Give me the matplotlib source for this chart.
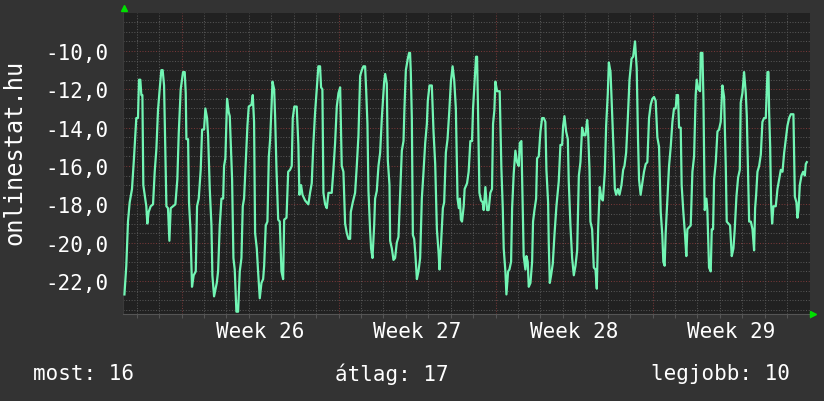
#!/usr/bin/env python3
from datetime import datetime, timedelta, date
import numpy as np
import matplotlib
matplotlib.use('Agg')
import matplotlib.pyplot as plt
from matplotlib.ticker import FuncFormatter, MultipleLocator, FixedLocator
import matplotlib.dates as mdates

# (hours since start, value), one block per stretch
seg1 = [(1,-22.7),(3,-21.2),(4.8,-18.9),(6.6,-17.9),(9.1,-17.2),(11.2,-15.6),(13.7,-13.5),(15.5,-13.5),
        (16.6,-11.5),(18,-11.5),(19.1,-12.3),(20.2,-12.3),(21.2,-17.0),(22.7,-17.5),(24.4,-18.1),(25.5,-19.0),
        (26.9,-18.4),(29.1,-18.1),(31.6,-18.0),(33.4,-16.3),(35.2,-15.1),(36.9,-13.1),(38.7,-12.0),(40.5,-11.0),
        (41.9,-11.0),(43.4,-11.8),(45.9,-18.1),(47.6,-18.2),(49.1,-19.9),(50.5,-18.2),(55.5,-18.0),(57.6,-16.7),
        (59.1,-14.3),(61.2,-12.0),(63.7,-11.1),(65.5,-11.1),(66.6,-12.2),(67.3,-14.6),(69.1,-14.6),(70.1,-17.9),
        (71.6,-19.3),(73.3,-22.3),(75.1,-21.7),(77.3,-21.5),(78.7,-18.1),(80.5,-17.7),(82.6,-16.2),(84.1,-14.1),
        (86.2,-14.1),(87.6,-13.0),(89.4,-13.5),(90.5,-14.4),(92.3,-17.2),(94.1,-19.1),(95.1,-21.7),(96.9,-22.8),
        (99.8,-22.1),(101.2,-21.5),(103,-19.1),(104.8,-17.7),(106.6,-17.7),(107.6,-16.0),(109,-15.6),(110.8,-12.5),
        (112.6,-13.2),(113.7,-13.4),(116.2,-16.7),(117.6,-20.8),(119,-21.4),(120.8,-23.6),(122.6,-23.6),(124.4,-21.5),
        (126.2,-20.8),(127.6,-18.1),(129,-17.7),(130.8,-15.8),(132.6,-13.9),(134,-12.9),(136.9,-12.8),(138.3,-12.3),
        (139.7,-13.7),(140.8,-19.5),(142.6,-20.3),(144,-21.5),(145.8,-22.9),(147.6,-22.1),(149.4,-21.9),(150.5,-21.2),
        (152.2,-19.1),(154,-18.9),(155.5,-15.5),(156.9,-14.6),(158.3,-13.0),(159.4,-11.6),(161.2,-12.0),(162.2,-13.4),
        (163.7,-16.2),(165.5,-18.8),(167.2,-18.9),(169,-21.5),(170.8,-21.9),(171.9,-18.8),(174.4,-18.7),(176.2,-16.3)]

seg2 = [(178.2,-16.2),(180,-16.0),(181.1,-13.5),(182.8,-12.9),(185.3,-12.9),(187.1,-14.9),(188.2,-17.5),(190,-17.0),
        (191.5,-17.5),(194.3,-17.8),(197.8,-18.0),(199.6,-17.4),(201.4,-16.9),(203.2,-14.8),(205,-13.2),(206.8,-12.0),
        (208.5,-10.8),(210.3,-10.8),(211.4,-11.9),(212.8,-12.0),(213.9,-17.4),(215.7,-18.0),(217.5,-18.2),(219.3,-17.4),
        (222.8,-17.4),(224.6,-16.2),(226.4,-14.8),(228.2,-12.9),(230,-12.2),(231.8,-11.9),(233.5,-16.0),(235.3,-16.3),
        (237.1,-19.0),(238.9,-19.5),(240.7,-19.8),(242.5,-19.8),(243.2,-18.4),(245.3,-17.9),(247.8,-17.4),(249.6,-16.0),
        (251.4,-14.4),(253.2,-11.3),(255,-11.0),(256.7,-10.8),(258.5,-10.8),(259.6,-12.0),(261,-13.8),(262.1,-17.3),
        (263.9,-19.4),(264.9,-20.3),(266.4,-20.8),(268.2,-19.1),(269.2,-17.7),(271,-17.3),(272.8,-16.0),(274.6,-15.3),
        (276.4,-13.5),(278.9,-11.6),(280,-11.2),(281.7,-11.7),(282.8,-15.7),(284.6,-17.0),(285.3,-19.9),(287.1,-20.3),
        (288.9,-20.9),(290.6,-20.8),(292.4,-20.0),(294.2,-19.7),(296,-17.5),(297.8,-15.2),(299.6,-14.7),(300.6,-13.0),
        (302.1,-11.0),(304.2,-10.4),(305.6,-10.1),(306.6,-10.1),(307.4,-11.1),(308.5,-13.5),(309.6,-19.6),(311,-19.8),
        (312.4,-20.7),(313.9,-21.9),(315.6,-21.5),(317.4,-20.8),(319.2,-17.7),(321,-16.3),(322.8,-14.8),(324.6,-13.8),
        (325.6,-12.6),(327.4,-11.8),(329.9,-11.8),(331.7,-14.2),(333.5,-15.9),(335.3,-19.3),(337.1,-20.5),(338.1,-21.4),
        (339.6,-20.2),(341.7,-18.2),(343.1,-17.9),(344.9,-15.3),(346.7,-14.6),(348.5,-13.2),(350.3,-11.6),(352.1,-10.8),
        (353.8,-11.5),(355.6,-13.0),(357.4,-17.7),(358.8,-18.2),(359.9,-17.7),(361,-18.8)]

seg3 = [(362.2,-18.9),(364,-18.1),(365,-17.2),(367.6,-16.9),(369.3,-16.3),(371.1,-14.7),(372.9,-14.7),(374,-13.0),
        (375.8,-11.5),(377.2,-10.3),(378.3,-10.3),(379.3,-13.0),(380.8,-17.4),(382.5,-17.8),(384.3,-17.9),(385.4,-18.3),
        (387.2,-17.1),(389,-18.3),(390.7,-18.3),(392.5,-17.4),(394.3,-17.2),(395.4,-13.8),(396.8,-13.1),(397.9,-11.6),
        (399.7,-12.1),(402.5,-12.1),(404.3,-16.1),(405.8,-18.2),(406.8,-20.3),(408.6,-21.5),(409.7,-22.7),(411.5,-21.5),
        (412.9,-21.4),(414.7,-21.0),(415.8,-18.2),(417.5,-16.4),(419.3,-15.2),(421.1,-15.8),(422.9,-16.0),(424,-14.8),
        (425.7,-14.7),(427.2,-18.3),(428.2,-20.7),(430,-21.4),(431.1,-20.7),(432.5,-21.0),(433.6,-22.3),(435.4,-22.1),
        (437.2,-21.0),(438.2,-18.9),(439.7,-18.3),(441.5,-17.7),(442.5,-15.6),(444.3,-15.5),(446.1,-14.2),(447.9,-13.5),
        (449.7,-13.5),(451.4,-13.7),(452.5,-16.2),(454.3,-17.9),(455,-20.0),(456.1,-22.1),(457.5,-21.7),(459.3,-21.1),
        (461.1,-19.6),(463.2,-18.1),(465.7,-16.8),(467.5,-14.9),(469.3,-14.9),(470.4,-13.9),(471.8,-13.4),(473.6,-14.2),
        (475.4,-14.6),(476.4,-16.8),(478.2,-19.1),(480,-20.8),(481.8,-21.7),(483.6,-21.2),(485.4,-20.4),(487.2,-16.5),
        (488.9,-15.8),(490.7,-14.0),(492.5,-14.4),(494.3,-14.4),(496.1,-13.6),(497.1,-14.2),(498.6,-16.2),(499.6,-18.9),
        (501.4,-19.3),(503.2,-21.3),(505,-21.4),(506.4,-22.4),(507.9,-19.2),(509.6,-17.1),(511.4,-17.7),(512.9,-17.8),
        (515,-16.3),(516.4,-13.9),(518.2,-12.2),(519.3,-10.6),(521.1,-11.1),(522.9,-13.4),(524.6,-15.5),(525.7,-17.2),
        (527.1,-17.5),(528.9,-17.2),(530.7,-17.5),(532.8,-17.0),(534.6,-16.2),(536,-16.0),(537.8,-15.3),(539.6,-13.5),
        (541.4,-11.5),(543.6,-10.4),(545.3,-10.3)]

seg4 = [(547.3,-9.5),(549.1,-10.9),(550.5,-14.6),(551.6,-16.7),(553.3,-17.5),(555.1,-16.9),(556.9,-16.3),(558.7,-15.9),
        (560.5,-15.8),(562.3,-13.5),(564.1,-12.8),(565.8,-12.5),(567.6,-12.4),(569.4,-12.6),(571.2,-14.5),(573,-15.0),
        (574.8,-18.4),(576.5,-19.6),(577.6,-21.0),(579,-21.2),(580.1,-19.5),(581.9,-17.8),(583.7,-16.0),(585.5,-15.0),
        (587.3,-13.7),(589,-13.0),(590.8,-13.0),(591.9,-12.3),(593.3,-12.3),(594.4,-14.0),(596.2,-14.0),(597.2,-17.0),
        (599,-18.4),(600.8,-19.6),(602.2,-20.7),(603.3,-19.3),(605.1,-19.2),(606.9,-19.1),(608.7,-16.3),(610.5,-15.5),
        (612.2,-12.3),(613.3,-11.5),(615.1,-12.0),(616.9,-12.1),(617.6,-10.1),(619.4,-10.1),(620.5,-12.5),(621.9,-18.3),
        (623.7,-17.7),(624.7,-18.3),(626.5,-21.3),(628.3,-21.5),(629.4,-19.3),(630.8,-19.3),(631.9,-16.7),(633.7,-15.8),
        (635.5,-14.2),(637.2,-14.1),(639,-13.7),(640.8,-11.8),(642.6,-12.4),(644.4,-16.0),(645.4,-18.9),(647.2,-19.0),
        (649,-19.1),(650.8,-20.7),(652.6,-20.3),(654,-19.3),(655.8,-17.6),(657.6,-16.6),(659.4,-16.2),(660.4,-12.7),
        (662.2,-12.2),(664,-11.1),(665.8,-12.2),(666.9,-13.4),(669.4,-18.9),(671.2,-18.9),(673,-19.3),(674.7,-20.4),
        (675.8,-18.2),(676.9,-17.5),(678.3,-16.3),(680.1,-16.0),(681.9,-15.4),(683.6,-13.7),(685.4,-13.5),(687.2,-13.5),
        (689,-11.1),(690.1,-11.1),(690.8,-13.2),(691.9,-15.0),(692.9,-17.9),(694,-19.0),(695.4,-18.1),(697.9,-18.1),
        (699.7,-17.2),(701.5,-16.7),(703.3,-16.2),(705.1,-16.3),(706.9,-15.3),(708.6,-14.6),(710.4,-13.9),(712.2,-13.5),
        (714,-13.3),(716.8,-13.3),(718.3,-17.6),(720,-17.9),(721.1,-18.7),(722.2,-18.3),(723.6,-17.0),(725.4,-16.5),
        (727.2,-16.3),(729,-16.5),(730,-15.9),(731.1,-15.8)]

weeks = [26, 27, 28, 29]
ylabel = 'onlinestat.hu'
most, atlag, legjobb = 16, 17, 10

start = datetime(2013, 6, 24) - timedelta(hours=62.06)
span_hours = 734.2

BG = '#333333'
PLOT_BG = '#212121'
LINE = '#72f5b4'
MINOR = '#555555'
MAJOR = '#763838'
ARROW = '#00e000'
FONT = 'DejaVu Sans Mono'

pts = seg1 + seg2 + seg3 + seg4
hours = np.array([p[0] for p in pts])
vals = np.array([p[1] for p in pts])
times = [start + timedelta(hours=float(h)) for h in hours]
end = start + timedelta(hours=span_hours)

fig = plt.figure(figsize=(8.24, 4.02), dpi=100, facecolor=BG)
ax = fig.add_axes([123.5/824, 1-315/402, 686.2/824, 301/402])
ax.set_facecolor(PLOT_BG)

ymin, ymax = -23.72, -8.02
ax.set_xlim(start, end)
ax.set_ylim(ymin, ymax)

# grid: half-unit gray, every 2 red; daily gray, mondays red
dots = (0, (1, 1.6))
for y in np.arange(-23.5, -8.0, 0.5):
    red = abs(y / 2 - round(y / 2)) < 1e-6
    ax.axhline(y, color=MAJOR if red else MINOR, lw=0.75, ls=dots, zorder=1)
days = []
d = datetime(start.year, start.month, start.day) + timedelta(days=1)
while d < end:
    days.append(d)
    ax.axvline(d, color=MAJOR if d.weekday() == 0 else MINOR, lw=0.75, ls=dots, zorder=1)
    d += timedelta(days=1)

ax.plot(times, vals, color=LINE, lw=1.6, zorder=3)

ax.yaxis.set_major_locator(MultipleLocator(2))
ax.yaxis.set_major_formatter(FuncFormatter(lambda v, p: f'{v:.1f}'.replace('.', ',')))
mids = [datetime.combine(date.fromisocalendar(2013, w, 1), datetime.min.time()) + timedelta(days=3.5)
        for w in weeks]
ax.set_xticks(mids)
ax.set_xticklabels([f'Week {w}' for w in weeks])
ax.xaxis.set_minor_locator(FixedLocator(mdates.date2num(days)))
ax.tick_params(axis='both', which='major', length=0, colors='white', labelsize=15)
ax.tick_params(axis='x', which='minor', length=3, width=0.8, color='#555555', direction='out')
ax.tick_params(axis='y', pad=11)
ax.tick_params(axis='x', which='major', pad=5)
for lab in ax.get_xticklabels() + ax.get_yticklabels():
    lab.set_family(FONT)

for s in ['top', 'right']:
    ax.spines[s].set_visible(False)
ax.spines['bottom'].set_color('#555555')
ax.spines['left'].set_color('#3a3a3a')
ax.spines['bottom'].set_linewidth(0.8)
ax.spines['left'].set_linewidth(0.8)

# rrdtool style arrow heads
fig.lines.append(plt.Line2D([124.5/824], [1-9/402], transform=fig.transFigure, marker='^',
                            color=ARROW, markersize=5, ls='none'))
fig.lines.append(plt.Line2D([813/824], [1-315/402], transform=fig.transFigure, marker='>',
                            color=ARROW, markersize=5, ls='none'))

fig.text(0.017, 0.62, ylabel, rotation=90, ha='center', va='center', color='white',
         fontsize=17, family=FONT)
fig.text(33/824, 1-374/402, f'most: {most}', ha='left', va='center', color='white',
         fontsize=15, family=FONT)
fig.text(391.5/824, 1-374/402, f'átlag: {atlag}', ha='center', va='center', color='white',
         fontsize=15, family=FONT)
fig.text(790/824, 1-374/402, f'legjobb: {legjobb}', ha='right', va='center', color='white',
         fontsize=15, family=FONT)

fig.savefig('out.png', dpi=100, facecolor=BG)
